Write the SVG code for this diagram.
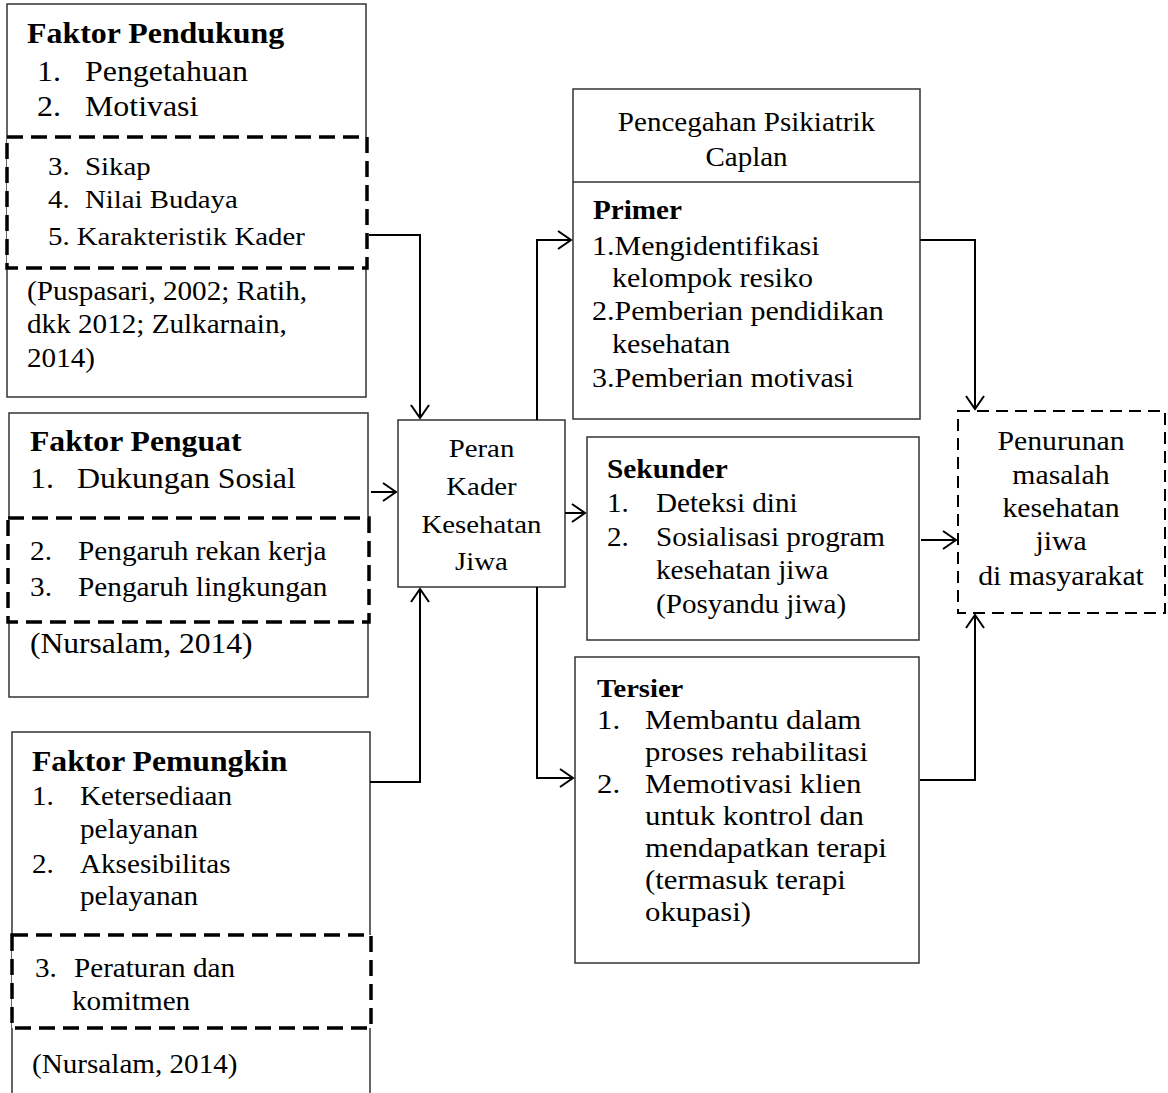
<svg xmlns="http://www.w3.org/2000/svg" width="1168" height="1093" viewBox="0 0 1168 1093">
  <defs>
    <style>
      text { font-family: "Liberation Serif", "Times New Roman", serif; fill: #000; }
      .b { font-weight: bold; }
      .m { text-anchor: middle; }
      .box { fill: #fff; stroke: #333; stroke-width: 1.5; }
      .dash { fill: #fff; stroke: #000; stroke-width: 3.5; stroke-dasharray: 16 8; }
      .dash2 { fill: #fff; stroke: #000; stroke-width: 2; stroke-dasharray: 12 7; }
      .conn path, .conn line { fill: none; stroke: #000; stroke-width: 2; }
      .arrow path { marker-end: url(#ah); }
    </style>
    <marker id="ah" markerWidth="16" markerHeight="20" refX="14" refY="10" orient="auto" markerUnits="userSpaceOnUse">
      <path d="M1,1 L14,10 L1,19" fill="none" stroke="#000" stroke-width="2"/>
    </marker>
  </defs>
  <rect width="1168" height="1093" fill="#fff"/>

  <!-- Faktor Pendukung -->
  <g id="faktor-pendukung">
    <rect class="box" x="7" y="4" width="359" height="393"/>
    <rect class="dash" x="7" y="137" width="360" height="131"/>
    <text class="b" font-size="29" transform="translate(27 43) scale(1.1 1)">Faktor Pendukung</text>
    <text font-size="29" transform="translate(37 81) scale(1.1 1)">1.</text>
    <text font-size="29" transform="translate(85 81) scale(1.1 1)">Pengetahuan</text>
    <text font-size="29" transform="translate(37 116) scale(1.1 1)">2.</text>
    <text font-size="29" transform="translate(85 116) scale(1.1 1)">Motivasi</text>
    <text font-size="26.2" transform="translate(48 175) scale(1.1 1)">3.</text>
    <text font-size="26.2" transform="translate(85 175) scale(1.1 1)">Sikap</text>
    <text font-size="26.2" transform="translate(48 208) scale(1.1 1)">4.</text>
    <text font-size="26.2" transform="translate(85 208) scale(1.1 1)">Nilai Budaya</text>
    <text font-size="26.2" transform="translate(48 245) scale(1.1 1)">5. Karakteristik Kader</text>
    <text font-size="26.5" transform="translate(27 300) scale(1.1 1)">(Puspasari, 2002; Ratih,</text>
    <text font-size="26.5" transform="translate(27 333) scale(1.1 1)">dkk 2012; Zulkarnain,</text>
    <text font-size="26.5" transform="translate(27 367) scale(1.1 1)">2014)</text>
  </g>

  <!-- Faktor Penguat -->
  <g id="faktor-penguat">
    <rect class="box" x="9" y="413" width="359" height="284"/>
    <rect class="dash" x="8" y="518" width="361" height="104"/>
    <text class="b" font-size="28.8" transform="translate(30 451) scale(1.1 1)">Faktor Penguat</text>
    <text font-size="29" transform="translate(30 488) scale(1.1 1)">1.</text>
    <text font-size="29" transform="translate(77 488) scale(1.1 1)">Dukungan Sosial</text>
    <text font-size="26.6" transform="translate(30 560) scale(1.1 1)">2.</text>
    <text font-size="26.6" transform="translate(78 560) scale(1.1 1)">Pengaruh rekan kerja</text>
    <text font-size="26.6" transform="translate(30 596) scale(1.1 1)">3.</text>
    <text font-size="26.6" transform="translate(78 596) scale(1.1 1)">Pengaruh lingkungan</text>
    <text font-size="28.7" transform="translate(30 653) scale(1.1 1)">(Nursalam, 2014)</text>
  </g>

  <!-- Faktor Pemungkin (box runs past the page edge) -->
  <g id="faktor-pemungkin">
    <rect class="box" x="12" y="732" width="358" height="400"/>
    <rect class="dash" x="12" y="935" width="359" height="93"/>
    <text class="b" font-size="28.8" transform="translate(32 771) scale(1.1 1)">Faktor Pemungkin</text>
    <text font-size="26.5" transform="translate(32 805) scale(1.1 1)">1.</text>
    <text font-size="26.5" transform="translate(80 805) scale(1.1 1)">Ketersediaan</text>
    <text font-size="26.5" transform="translate(80 838) scale(1.1 1)">pelayanan</text>
    <text font-size="26.5" transform="translate(32 873) scale(1.1 1)">2.</text>
    <text font-size="26.5" transform="translate(80 873) scale(1.1 1)">Aksesibilitas</text>
    <text font-size="26.5" transform="translate(80 905) scale(1.1 1)">pelayanan</text>
    <text font-size="26.5" transform="translate(35 977) scale(1.1 1)">3.</text>
    <text font-size="26.5" transform="translate(74 977) scale(1.1 1)">Peraturan dan</text>
    <text font-size="26.5" transform="translate(72 1010) scale(1.1 1)">komitmen</text>
    <text font-size="26.5" transform="translate(32 1073) scale(1.1 1)">(Nursalam, 2014)</text>
  </g>

  <!-- Peran Kader Kesehatan Jiwa -->
  <g id="peran-kader">
    <rect class="box" x="398" y="420" width="167" height="167"/>
    <text class="m" font-size="26.2" transform="translate(481.5 457) scale(1.1 1)">Peran</text>
    <text class="m" font-size="26.2" transform="translate(481.5 495) scale(1.1 1)">Kader</text>
    <text class="m" font-size="26.2" transform="translate(481.5 533) scale(1.1 1)">Kesehatan</text>
    <text class="m" font-size="26.2" transform="translate(481.5 570) scale(1.1 1)">Jiwa</text>
  </g>

  <!-- Pencegahan Psikiatrik Caplan / Primer -->
  <g id="primer">
    <rect class="box" x="573" y="89" width="347" height="330"/>
    <line x1="573" y1="182" x2="920" y2="182" stroke="#333" stroke-width="1.5"/>
    <text class="m" font-size="26.4" transform="translate(746.5 131) scale(1.1 1)">Pencegahan Psikiatrik</text>
    <text class="m" font-size="26.4" transform="translate(746.5 166) scale(1.1 1)">Caplan</text>
    <text class="b" font-size="26.5" transform="translate(593 219) scale(1.1 1)">Primer</text>
    <text font-size="27.3" transform="translate(592 255) scale(1.1 1)">1.Mengidentifikasi</text>
    <text font-size="27.3" transform="translate(612 287) scale(1.1 1)">kelompok resiko</text>
    <text font-size="27.3" transform="translate(592 320) scale(1.1 1)">2.Pemberian pendidikan</text>
    <text font-size="27.3" transform="translate(612 353) scale(1.1 1)">kesehatan</text>
    <text font-size="27.3" transform="translate(592 387) scale(1.1 1)">3.Pemberian motivasi</text>
  </g>

  <!-- Sekunder -->
  <g id="sekunder">
    <rect class="box" x="587" y="437" width="332" height="203"/>
    <text class="b" font-size="26.7" transform="translate(607 478) scale(1.1 1)">Sekunder</text>
    <text font-size="26.5" transform="translate(607 512) scale(1.1 1)">1.</text>
    <text font-size="26.5" transform="translate(656 512) scale(1.1 1)">Deteksi dini</text>
    <text font-size="26.5" transform="translate(607 546) scale(1.1 1)">2.</text>
    <text font-size="26.5" transform="translate(656 546) scale(1.1 1)">Sosialisasi program</text>
    <text font-size="26.5" transform="translate(656 579) scale(1.1 1)">kesehatan jiwa</text>
    <text font-size="26.5" transform="translate(656 613) scale(1.1 1)">(Posyandu jiwa)</text>
  </g>

  <!-- Tersier -->
  <g id="tersier">
    <rect class="box" x="575" y="657" width="344" height="306"/>
    <text class="b" font-size="26" transform="translate(597 697) scale(1.1 1)">Tersier</text>
    <text font-size="28" transform="translate(597 729) scale(1.1 1)">1.</text>
    <text font-size="28" transform="translate(645 729) scale(1.1 1)">Membantu dalam</text>
    <text font-size="28" transform="translate(645 761) scale(1.1 1)">proses rehabilitasi</text>
    <text font-size="28" transform="translate(597 793) scale(1.1 1)">2.</text>
    <text font-size="28" transform="translate(645 793) scale(1.1 1)">Memotivasi klien</text>
    <text font-size="28" transform="translate(645 825) scale(1.1 1)">untuk kontrol dan</text>
    <text font-size="28" transform="translate(645 857) scale(1.1 1)">mendapatkan terapi</text>
    <text font-size="28" transform="translate(645 889) scale(1.1 1)">(termasuk terapi</text>
    <text font-size="28" transform="translate(645 921) scale(1.1 1)">okupasi)</text>
  </g>

  <!-- Penurunan masalah kesehatan jiwa -->
  <g id="penurunan">
    <rect class="dash2" x="958" y="411" width="207" height="202"/>
    <text class="m" font-size="27" transform="translate(1061 450) scale(1.1 1)">Penurunan</text>
    <text class="m" font-size="27" transform="translate(1061 484) scale(1.1 1)">masalah</text>
    <text class="m" font-size="27" transform="translate(1061 517) scale(1.1 1)">kesehatan</text>
    <text class="m" font-size="27" transform="translate(1061 550) scale(1.1 1)">jiwa</text>
    <text class="m" font-size="27" transform="translate(1061 585) scale(1.1 1)">di masyarakat</text>
  </g>

  <!-- Connectors -->
  <g id="connectors" class="conn arrow">
    <path d="M369,235 H420 V418"/>
    <path d="M371,492 H396"/>
    <path d="M370,782 H420 V589"/>
    <path d="M537,420 V240 H571"/>
    <path d="M565,513 H585"/>
    <path d="M537,587 V778 H573"/>
    <path d="M920,240 H975 V409"/>
    <path d="M921,540 H956"/>
    <path d="M920,780 H975 V615"/>
  </g>
</svg>
